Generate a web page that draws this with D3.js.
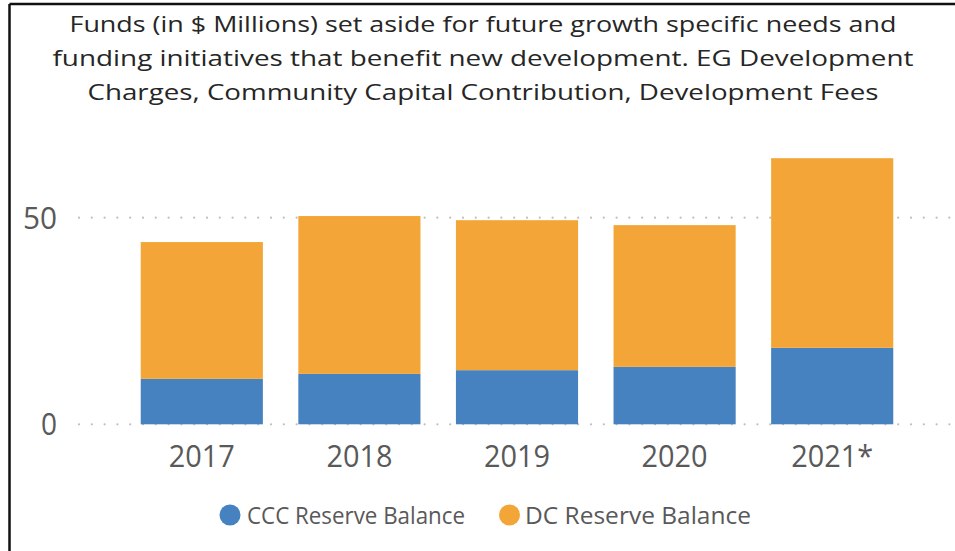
<!DOCTYPE html>
<html>
<head>
<meta charset="utf-8">
<script src="https://cdn.jsdelivr.net/npm/d3@7"></script>
<style>
  html, body { margin: 0; padding: 0; background: #fff; }
  svg { display: block; }
  text { font-family: "Open Sans", "Noto Sans", sans-serif; }
</style>
</head>
<body>
<svg id="chart" width="955" height="551"></svg>
<script>
const categories = ["2017", "2018", "2019", "2020", "2021*"];
const cccValues = [11.0, 12.2, 13.1, 13.9, 18.5];
const dcValues = [33.1, 38.2, 36.3, 34.3, 45.9];
const seriesNames = ["CCC Reserve Balance", "DC Reserve Balance"];
const yTicks = [0, 50];
const titleLines = [
  "Funds (in $ Millions) set aside for future growth specific needs and",
  "funding initiatives that benefit new development. EG Development",
  "Charges, Community Capital Contribution, Development Fees"
];

const W = 955, H = 551;
const svg = d3.select("#chart");
const colors = ["#4682C0", "#F3A637"];
const textColor = "#595959";

function fit(sel, target) {
  sel.each(function () {
    const w = this.getComputedTextLength();
    if (Math.abs(w - target) > 1) {
      d3.select(this).attr("textLength", target).attr("lengthAdjust", "spacingAndGlyphs");
    }
  });
}

// border (top and left)
svg.append("line").attr("x1", 9.5).attr("x2", W).attr("y1", 4).attr("y2", 4)
  .attr("stroke", "#111").attr("stroke-width", 2.5);
svg.append("line").attr("x1", 9.5).attr("x2", 9.5).attr("y1", 4).attr("y2", H)
  .attr("stroke", "#111").attr("stroke-width", 2.5);

// title
const titleBase = [32, 66, 100];
const titleWidths = [827, 861, 791];
titleLines.forEach((t, i) => {
  const el = svg.append("text").attr("x", 483).attr("y", titleBase[i])
    .attr("text-anchor", "middle").attr("font-size", 22).attr("fill", "#262626").text(t);
  fit(el, titleWidths[i]);
});

// scales
const x = d3.scaleBand().domain(categories).range([123, 911]).paddingInner(0.225).paddingOuter(0.1125);
const y = d3.scaleLinear().domain([0, 50]).range([424.3, 217.7]);

// gridlines
svg.append("g").selectAll("line").data(yTicks).join("line")
  .attr("x1", 79).attr("x2", 952)
  .attr("y1", d => y(d)).attr("y2", d => y(d))
  .attr("stroke", "#BFBFBF").attr("stroke-width", 2.2)
  .attr("stroke-linecap", "round")
  .attr("stroke-dasharray", "0,12.8");

// y tick labels
const yLab = svg.append("g").selectAll("text").data(yTicks).join("text")
  .attr("x", 57).attr("y", d => y(d) + 11)
  .attr("text-anchor", "end").attr("font-size", 31).attr("fill", textColor)
  .text(d => d);
yLab.each(function (d) { fit(d3.select(this), d === 50 ? 34 : 16); });

// stacked bars
const rows = categories.map((c, i) => ({ cat: c, ccc: cccValues[i], dc: dcValues[i] }));
const stack = d3.stack().keys(["ccc", "dc"])(rows);
svg.append("g").selectAll("g").data(stack).join("g")
  .attr("fill", (d, i) => colors[i])
  .selectAll("rect").data(d => d).join("rect")
  .attr("x", d => x(d.data.cat))
  .attr("width", x.bandwidth())
  .attr("y", d => y(d[1]))
  .attr("height", d => y(d[0]) - y(d[1]));

// x labels
const xWidths = [66, 66, 66, 66, 82];
const xLab = svg.append("g").selectAll("text").data(categories).join("text")
  .attr("x", d => x(d) + x.bandwidth() / 2)
  .attr("y", 467)
  .attr("text-anchor", "middle").attr("font-size", 31).attr("fill", textColor)
  .text(d => d);
xLab.each(function (d, i) { fit(d3.select(this), xWidths[i]); });

// legend
const legendItems = [
  { name: seriesNames[0], cx: 230, tx: 247, w: 218 },
  { name: seriesNames[1], cx: 509.5, tx: 525, w: 226 }
];
legendItems.forEach((it, i) => {
  svg.append("circle").attr("cx", it.cx).attr("cy", 515).attr("r", 10.5).attr("fill", colors[i]);
  const t = svg.append("text").attr("x", it.tx).attr("y", 524)
    .attr("font-size", 24).attr("fill", textColor).text(it.name);
  fit(t, it.w);
});
</script>
</body>
</html>
